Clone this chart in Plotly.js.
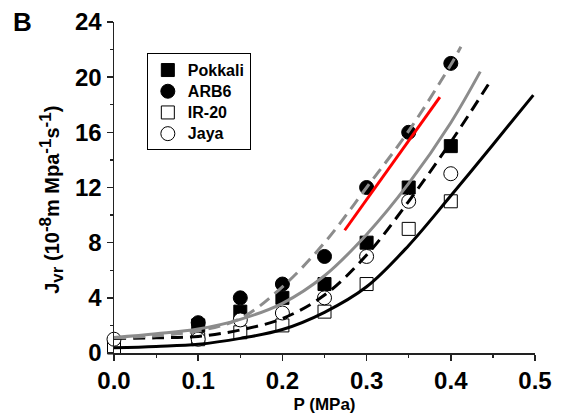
<!DOCTYPE html>
<html><head><meta charset="utf-8">
<script src="https://cdn.plot.ly/plotly-3.0.1.min.js"></script>
<style>html,body{margin:0;padding:0;background:#fff}#chart{width:565px;height:418px}</style>
</head><body><div id="chart"></div>
<script>
// Measured data
const pokkaliX = [0.1, 0.15, 0.2, 0.25, 0.3, 0.35, 0.4];
const pokkaliY = [2.0, 3.0, 4.0, 5.0, 8.0, 12.0, 15.0];
const arb6X = [0.1, 0.15, 0.2, 0.25, 0.3, 0.35, 0.4];
const arb6Y = [2.2, 4.0, 5.0, 7.0, 12.0, 16.0, 21.0];
const ir20X = [0, 0.1, 0.15, 0.2, 0.25, 0.3, 0.35, 0.4];
const ir20Y = [0.4, 1.0, 1.5, 2.0, 3.0, 5.0, 9.0, 11.0];
const jayaX = [0, 0.1, 0.15, 0.2, 0.25, 0.3, 0.35, 0.4];
const jayaY = [1.0, 1.0, 2.4, 2.9, 4.0, 7.0, 11.0, 13.0];
const seriesNames = ['Pokkali', 'ARB6', 'IR-20', 'Jaya'];

// Fitted curves
const blackSolidX = [0, 0.05, 0.1, 0.15, 0.2, 0.25, 0.3, 0.35, 0.4, 0.45, 0.498];
const blackSolidY = [0.38, 0.48, 0.63, 1.06, 1.7, 2.95, 4.8, 7.8, 11.4, 15.1, 18.7];
const blackDashX = [0, 0.05, 0.1, 0.15, 0.2, 0.25, 0.3, 0.35, 0.4, 0.449];
const blackDashY = [1.06, 1.1, 1.2, 1.67, 2.5, 4.2, 7.1, 11.0, 15.3, 19.9];
const graySolidX = [0, 0.05, 0.1, 0.15, 0.2, 0.25, 0.3, 0.35, 0.4, 0.435];
const graySolidY = [1.13, 1.4, 1.74, 2.44, 3.6, 5.6, 8.6, 12.3, 16.7, 20.4];
const grayDashX = [0, 0.05, 0.1, 0.15, 0.2, 0.25, 0.3, 0.35, 0.4, 0.412];
const grayDashY = [1.1, 1.25, 1.6, 2.5, 4.8, 8.0, 12.0, 16.1, 20.9, 22.2];
const redX = [0.274, 0.387];
const redY = [8.9, 18.55];

const F = "Arial, 'Liberation Sans', sans-serif";
const L = t => '<span style="font-size:16px">' + t + '</span>';
function pts(name, x, y, symbol, size, fill) {
  return {type:'scatter', mode:'markers', name:L(name), x:x, y:y, cliponaxis:false,
    marker:{symbol:symbol, size:size, color:fill, line:{color:'#000', width:1}}};
}
function ln(x, y, color, dash) {
  return {type:'scatter', mode:'lines', x:x, y:y, showlegend:false, cliponaxis:false,
    line:{color:color, width:3, dash:dash, shape:'spline', smoothing:1}, hoverinfo:'skip'};
}
const data = [
  pts(seriesNames[0], pokkaliX, pokkaliY, 'square', 13, '#000'),
  pts(seriesNames[1], arb6X, arb6Y, 'circle', 14, '#000'),
  pts(seriesNames[2], ir20X, ir20Y, 'square-open', 13, '#000'),
  pts(seriesNames[3], jayaX, jayaY, 'circle', 14, '#fff'),
  ln(blackSolidX, blackSolidY, '#000', 'solid'),
  ln(blackDashX, blackDashY, '#000', '12px,7px'),
  ln(graySolidX, graySolidY, '#8c8c8c', 'solid'),
  ln(grayDashX, grayDashY, '#8c8c8c', '12px,7px'),
  ln(redX, redY, '#ff0000', 'solid')
];
const S = t => '<span style="font-size:17px">' + t + '</span>';
const layout = {
  width:565, height:418,
  margin:{l:114, r:30, t:22, b:65},
  paper_bgcolor:'#fff', plot_bgcolor:'#fff',
  font:{family:F, color:'#000'},
  showlegend:true,
  legend:{x:0.078, y:0.905, xanchor:'left', yanchor:'top', bordercolor:'#000', borderwidth:1,
    bgcolor:'#fff', font:{family:F, size:14, weight:'bold', color:'#000'}, tracegroupgap:0},
  xaxis:{range:[0,0.5], dtick:0.1, tick0:0, tickformat:'.1f', showgrid:false, zeroline:false,
    showline:true, linecolor:'#222', linewidth:1.5, ticks:'outside', ticklen:6, tickwidth:1.5, tickcolor:'#222',
    minor:{dtick:0.05, ticks:'outside', ticklen:3, tickwidth:1.2, tickcolor:'#222'},
    tickfont:{family:F, size:24, weight:'bold'},
    title:{text:'P (MPa)', font:{family:F, size:17, weight:'bold'}, standoff:5}},
  yaxis:{range:[0,24], dtick:4, tick0:0, showgrid:false, zeroline:false,
    showline:true, linecolor:'#222', linewidth:1.5, ticks:'outside', ticklen:6, tickwidth:1.5, tickcolor:'#222',
    minor:{dtick:2, ticks:'outside', ticklen:3, tickwidth:1.2, tickcolor:'#222'},
    tickfont:{family:F, size:24, weight:'bold'}},
  annotations:[
    {text:'J<sub>' + S('vr') + '</sub> (10<sup>' + S('-8') + '</sup>m Mpa<sup>' + S('-1') + '</sup>s<sup>' + S('-1') + '</sup>)', textangle:-90,
      xref:'paper', yref:'paper', x:-0.148, y:0.462, xanchor:'center', yanchor:'middle', showarrow:false,
      font:{family:F, size:20, weight:'bold', color:'#000'}},
    {text:'B', xref:'paper', yref:'paper', x:-0.245, y:1.05, xanchor:'left', yanchor:'top', showarrow:false,
      font:{family:F, size:26, weight:'bold', color:'#000'}}
  ]
};
Plotly.newPlot('chart', data, layout, {displayModeBar:false, staticPlot:true});
</script></body></html>
